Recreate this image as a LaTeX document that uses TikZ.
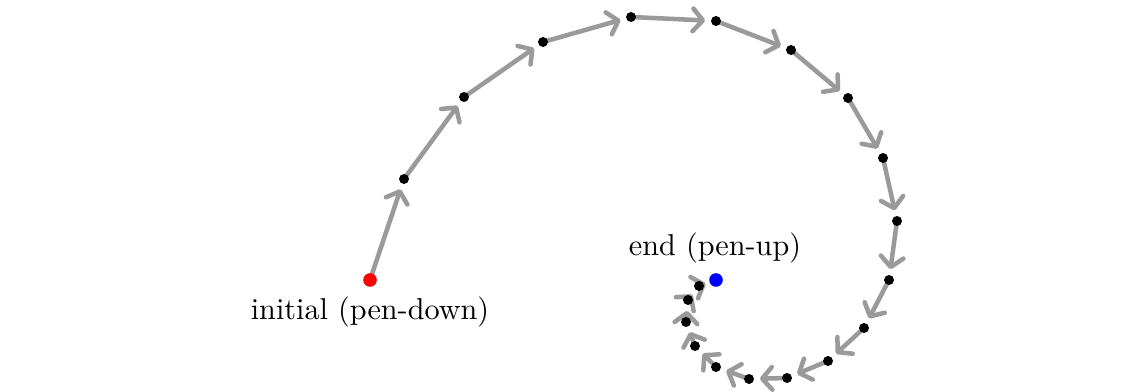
\documentclass[tikz,border=0pt]{standalone}
\usetikzlibrary{arrows.meta}
\definecolor{conngray}{HTML}{9A9A9A}
\tikzset{
  conn/.style={draw=conngray, line width=1.5pt, line cap=round,
    -{Straight Barb[length=3.3pt,width=7.5pt,round]}, shorten >=3.6pt},
  pdot/.style={circle, fill=black, inner sep=0pt, minimum size=3.3pt},
  startdot/.style={circle, fill=red, inner sep=0pt, minimum size=4.5pt},
  enddot/.style={circle, fill=blue, inner sep=0pt, minimum size=4.5pt},
  lbl/.style={font=\normalsize, inner sep=0pt}
}
\begin{document}
\begin{tikzpicture}[x=0.331pt, y=-0.331pt]
\useasboundingbox (0,0) rectangle (1143,392);
\coordinate (c0) at (370,280);
\coordinate (c1) at (404,179);
\coordinate (c2) at (464,97);
\coordinate (c3) at (543,42);
\coordinate (c4) at (631,17);
\coordinate (c5) at (716,21);
\coordinate (c6) at (791,50);
\coordinate (c7) at (848,98);
\coordinate (c8) at (883,158);
\coordinate (c9) at (897,221);
\coordinate (c10) at (889,280);
\coordinate (c11) at (864,328);
\coordinate (c12) at (828,361);
\coordinate (c13) at (787,378);
\coordinate (c14) at (749,379);
\coordinate (c15) at (716,367);
\coordinate (c16) at (695,346);
\coordinate (c17) at (686,322);
\coordinate (c18) at (688,300);
\coordinate (c19) at (699,286);
\coordinate (c20) at (716,280);
\foreach \i [evaluate=\i as \j using int(\i+1)] in {0,...,19}
  \draw[conn] (c\i) -- (c\j);
\node[startdot] (p0) at (c0) {};
\foreach \i in {1,...,19}
  \node[pdot] (p\i) at (c\i) {};
\node[enddot] (p20) at (c20) {};
\node[lbl, anchor=base] (lstart) at (370,320) {initial (pen-down)};
\node[lbl, anchor=base] (lend) at (715,256) {end (pen-up)};
\end{tikzpicture}
\end{document}
